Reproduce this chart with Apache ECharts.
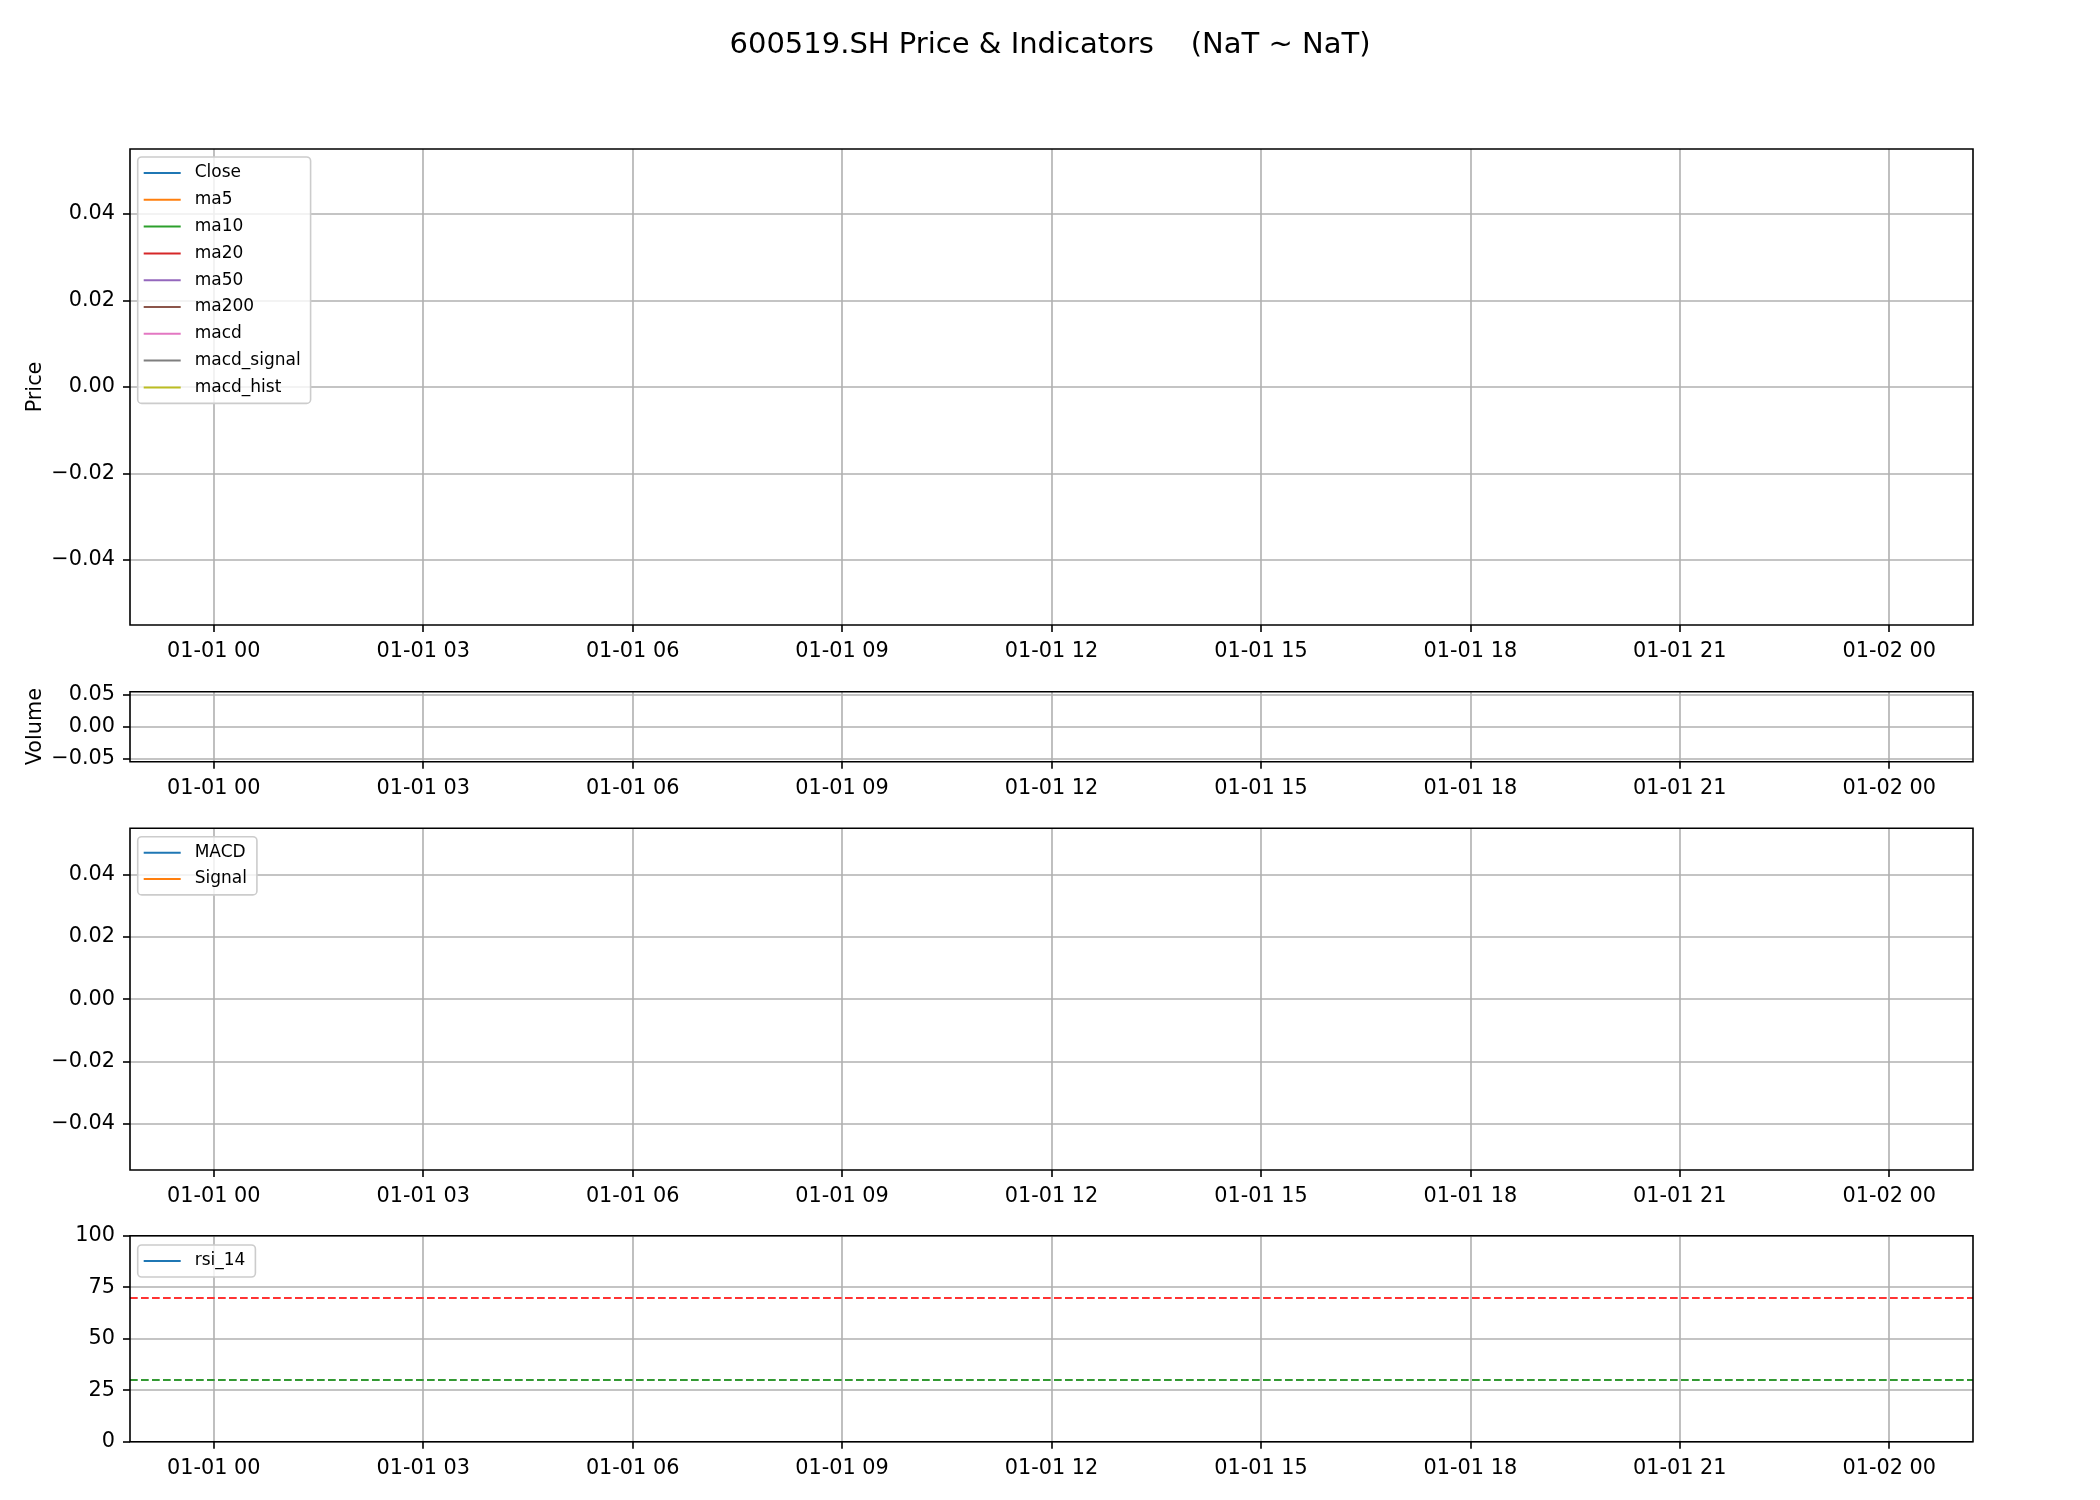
<!DOCTYPE html>
<html>
<head>
<meta charset="utf-8">
<script src="https://cdn.jsdelivr.net/npm/echarts@6/dist/echarts.min.js"></script>
<style>
html,body{margin:0;padding:0;background:#fff;}
#chart{width:2100px;height:1500px;}
</style>
</head>
<body>
<div id="chart"></div>
<script>
// ---- data (all NaN / empty in the reference) ----
const titleText = '600519.SH Price & Indicators    (NaT ~ NaT)';
const tickHours = [0, 3, 6, 9, 12, 15, 18, 21, 24];
const tickLabels = ['01-01 00','01-01 03','01-01 06','01-01 09','01-01 12','01-01 15','01-01 18','01-01 21','01-02 00'];
const xRange = [-1.2, 25.2];
const priceTicks = [-0.04, -0.02, 0, 0.02, 0.04];
const volumeTicks = [-0.05, 0, 0.05];
const macdTicks = [-0.04, -0.02, 0, 0.02, 0.04];
const rsiTicks = [0, 25, 50, 75, 100];
const smallRange = [-0.055, 0.055];
const rsiLevels = [70, 30];

const priceNames = ['Close','ma5','ma10','ma20','ma50','ma200','macd','macd_signal','macd_hist'];
const priceColors = ['#1f77b4','#ff7f0e','#2ca02c','#d62728','#9467bd','#8c564b','#e377c2','#7f7f7f','#bcbd22'];
const priceData = {
  Close: [], ma5: [], ma10: [], ma20: [], ma50: [], ma200: [], macd: [], macd_signal: [], macd_hist: []
};
const volumeData = [];
const macdNames = ['MACD','Signal'];
const macdColors = ['#1f77b4','#ff7f0e'];
const macdLine = [];
const signalLine = [];
const rsiData = [];

// ---- layout / style ----
const FONT = 'DejaVu Sans';
const grids = [
  {left:130, right:127, top:149, height:476},
  {left:130, right:127, top:691.7, height:70},
  {left:130, right:127, top:828.3, height:341.7},
  {left:130, right:127, top:1235.7, height:206}
];
const gridLine = {show:true, lineStyle:{color:'#b0b0b0', width:1.6}};
const tickStyle = {lineStyle:{color:'#000', width:1.6}, length:7, inside:false};

function fmtSmall(v){
  const s = Math.abs(v).toFixed(2);
  return (v < -1e-12 ? '\u2212' : '') + s;
}
function fmtX(v){
  const i = tickHours.indexOf(Math.round(v));
  return i >= 0 ? tickLabels[i] : '';
}

const xAxes = grids.map((g, i) => ({
  type:'value', gridIndex:i, min:xRange[0], max:xRange[1], position:'bottom',
  axisLine:{show:false, onZero:false},
  axisTick:Object.assign({show:true, customValues:tickHours}, tickStyle),
  axisLabel:{show:true, customValues:tickHours, formatter:fmtX, margin:16,
    fontFamily:FONT, fontSize:20.8, color:'#000'},
  splitLine:gridLine
}));

function yAxisSmall(idx, ticks, name){
  const a = {
    type:'value', gridIndex:idx, min:smallRange[0], max:smallRange[1], position:'left',
    axisLine:{show:false, onZero:false},
    axisTick:Object.assign({show:true, customValues:ticks}, tickStyle),
    axisLabel:{show:true, customValues:ticks, formatter:fmtSmall, margin:15,
      fontFamily:FONT, fontSize:20.8, color:'#000'},
    splitLine:gridLine
  };
  if (name) {
    a.name = name; a.nameLocation = 'middle'; a.nameGap = 84; a.nameMoveOverlap = false;
    a.nameTextStyle = {fontFamily:FONT, fontSize:20.8, color:'#000'};
  }
  return a;
}

const yAxes = [
  yAxisSmall(0, priceTicks, 'Price'),
  yAxisSmall(1, volumeTicks, 'Volume'),
  yAxisSmall(2, macdTicks, null),
  {
    type:'value', gridIndex:3, min:0, max:100, interval:25, position:'left',
    axisLine:{show:false, onZero:false},
    axisTick:Object.assign({show:true}, tickStyle),
    axisLabel:{show:true, margin:15, fontFamily:FONT, fontSize:20.8, color:'#000'},
    splitLine:gridLine
  }
];

const series = [];
priceNames.forEach((n, i) => {
  series.push({
    name:n, type:'line', xAxisIndex:0, yAxisIndex:0, data:priceData[n],
    symbol:'none', lineStyle:{color:priceColors[i], width:2}, itemStyle:{color:priceColors[i]}
  });
});
series.push({name:'Volume', type:'bar', xAxisIndex:1, yAxisIndex:1, data:volumeData, itemStyle:{color:'#1f77b4'}});
series.push({name:'MACD', type:'line', xAxisIndex:2, yAxisIndex:2, data:macdLine, symbol:'none',
  lineStyle:{color:macdColors[0], width:2}, itemStyle:{color:macdColors[0]}});
series.push({name:'Signal', type:'line', xAxisIndex:2, yAxisIndex:2, data:signalLine, symbol:'none',
  lineStyle:{color:macdColors[1], width:2}, itemStyle:{color:macdColors[1]}});
series.push({name:'rsi_14', type:'line', xAxisIndex:3, yAxisIndex:3, data:rsiData, symbol:'none',
  lineStyle:{color:'#1f77b4', width:2}, itemStyle:{color:'#1f77b4'},
  markLine:{
    silent:true, symbol:['none','none'], label:{show:false},
    animation:false,
    data:[
      {yAxis:rsiLevels[0], lineStyle:{color:'#ff3333', type:[7.7,3.3], width:2}},
      {yAxis:rsiLevels[1], lineStyle:{color:'#339933', type:[7.7,3.3], width:2}}
    ]
  }
});

function legendAt(names, left, top, gap){
  return {
    orient:'vertical', left:left, top:top, data:names,
    icon:'rect', itemWidth:37, itemHeight:2, itemGap:gap,
    padding:[6, 10, 6, 6],
    backgroundColor:'rgba(255,255,255,0.8)', borderColor:'#cccccc', borderWidth:1.6, borderRadius:4,
    textStyle:{fontFamily:FONT, fontSize:17, color:'#000', lineHeight:20, padding:[0,0,0,9]},
    selectedMode:false
  };
}

const option = {
  animation:false,
  backgroundColor:'#ffffff',
  title:{text:titleText, left:'center', top:26,
    textStyle:{fontFamily:FONT, fontSize:29, fontWeight:'normal', color:'#000'}},
  grid:grids.map(g => Object.assign({show:true, borderColor:'#000', borderWidth:1.6,
    backgroundColor:'transparent', z:10}, g)),
  xAxis:xAxes,
  yAxis:yAxes,
  legend:[
    legendAt(priceNames, 137.7, 157, 6.8),
    legendAt(macdNames, 137.7, 836.7, 6.2),
    legendAt(['rsi_14'], 137.7, 1245, 6)
  ],
  series:series
};

const chart = echarts.init(document.getElementById('chart'), null, {renderer:'canvas'});
chart.setOption(option);
</script>
</body>
</html>
